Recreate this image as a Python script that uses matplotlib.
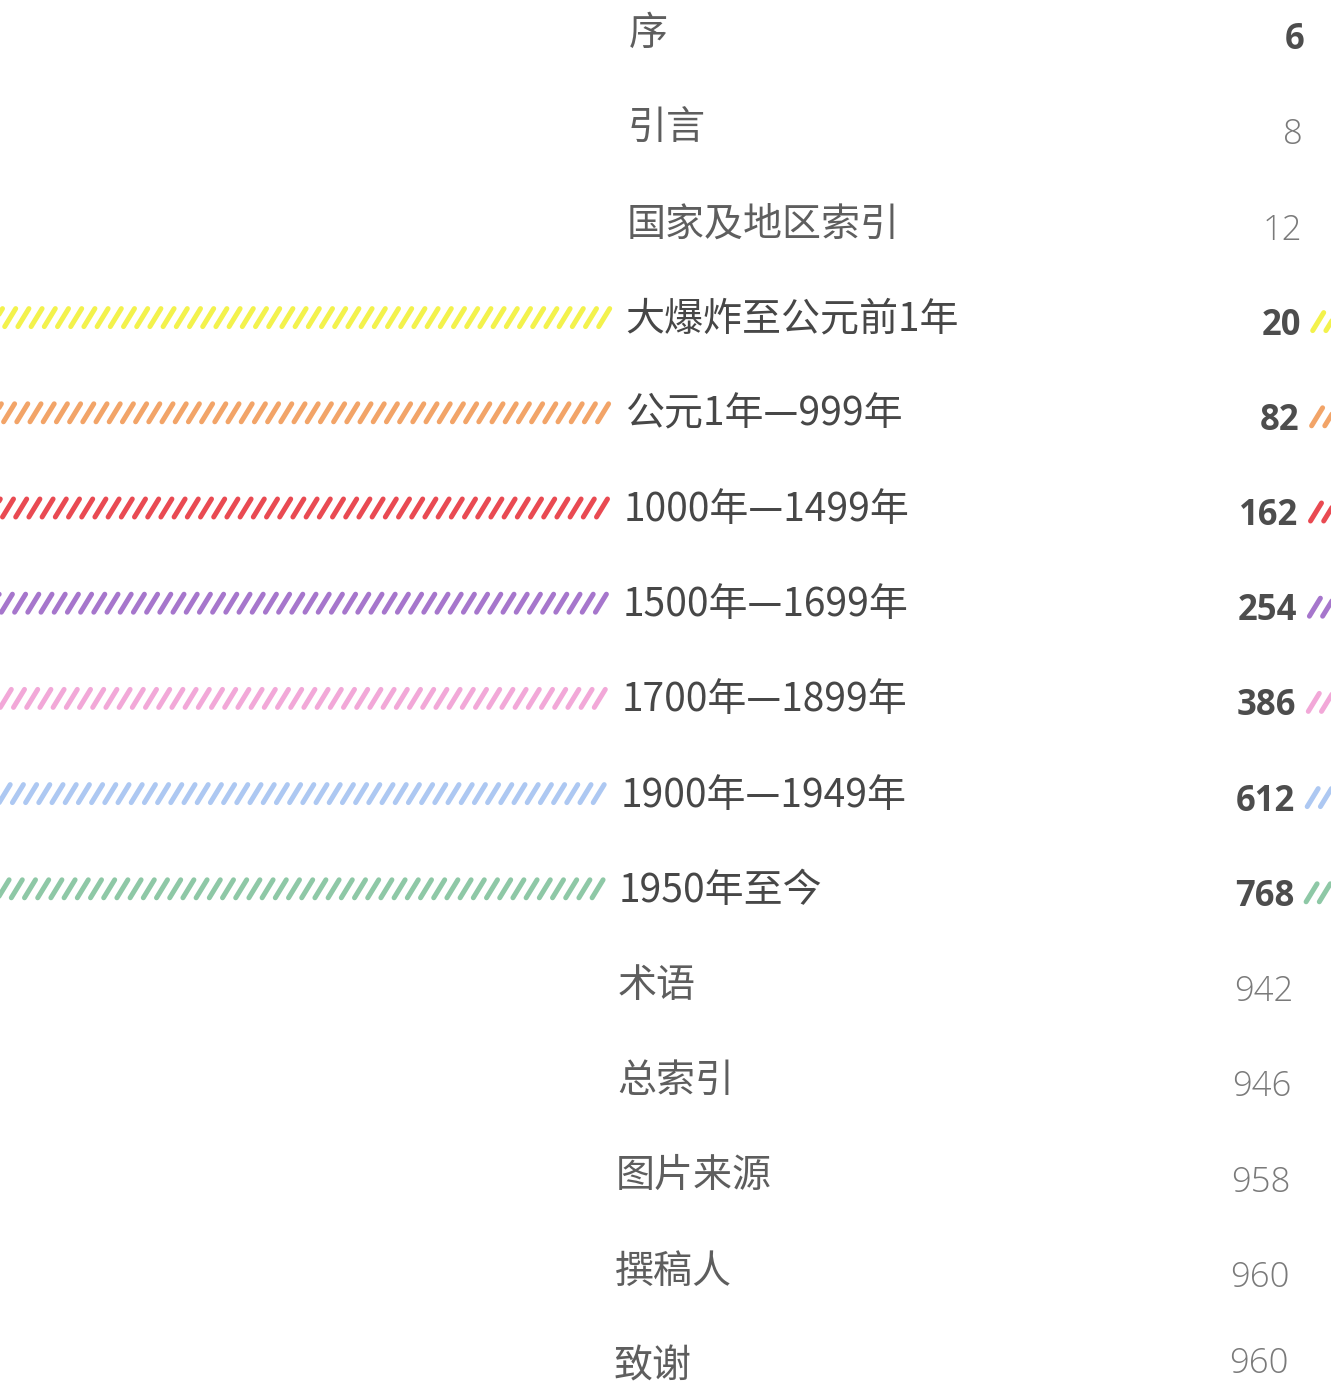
import numpy as np
import matplotlib.pyplot as plt
from matplotlib.collections import LineCollection

W, H, DPI = 1331, 1386, 78

titles = ['序', '引言', '国家及地区索引', '大爆炸至公元前1年', '公元1年—999年',
          '1000年—1499年', '1500年—1699年', '1700年—1899年', '1900年—1949年',
          '1950年至今', '术语', '总索引', '图片来源', '撰稿人', '致谢']
pages = ['6', '8', '12', '20', '82', '162', '254', '386', '612', '768',
         '942', '946', '958', '960', '960']
bold_pages = [True, False, False, True, True, True, True, True, True, True,
              False, False, False, False, False]
chapter = [False, False, False, True, True, True, True, True, True, True,
           False, False, False, False, False]
stripe_colors = {3: '#f3f24c', 4: '#f2a468', 5: '#e94a52', 6: '#a676cc',
                 7: '#f2a8d8', 8: '#adc8f2', 9: '#8ec8a6'}

fig = plt.figure(figsize=(W / DPI, H / DPI), dpi=DPI)
ax = fig.add_axes([0, 0, 1, 1])
ax.set_xlim(0, W)
ax.set_ylim(H, 0)
ax.axis('off')


def stripes(x0, x1, y, color, from_right=True):
    # diagonal dashes, like a ribbon of "/////"
    if from_right:
        xs = np.arange(x1 - 11, x0 - 11, -13.2)
    else:
        xs = np.arange(x0, x1, 13.2)
    segs = [[(x, y + 9), (x + 11, y - 9)] for x in xs]
    ax.add_collection(LineCollection(segs, colors=color, linewidths=4.6,
                                     capstyle='round'))


for i, (t, p) in enumerate(zip(titles, pages)):
    y = 34 + i * 95.2
    drift = i * 1.1
    tx = 629 - drift
    if chapter[i]:
        c = stripe_colors[i]
        stripes(-6, 613 - drift, y - 2, c)
        stripes(1316 - drift, W + 20, y + 2, c, from_right=False)
    ax.text(tx, y, t, fontsize=36, va='center', ha='left',
            family=['Noto Sans CJK SC', 'DejaVu Sans'],
            color='#474747' if chapter[i] else '#5e5e5e',
            fontweight='medium' if chapter[i] else 'light')
    ax.text(1304 - drift, min(y + 6, H - 22), p, fontsize=32, va='center',
            ha='right', family=['Open Sans', 'DejaVu Sans'],
            color='#4d4d4d' if bold_pages[i] else '#7a7a7a',
            fontweight='bold' if bold_pages[i] else 'light')

fig.savefig('out.png', dpi=DPI, facecolor='white')
